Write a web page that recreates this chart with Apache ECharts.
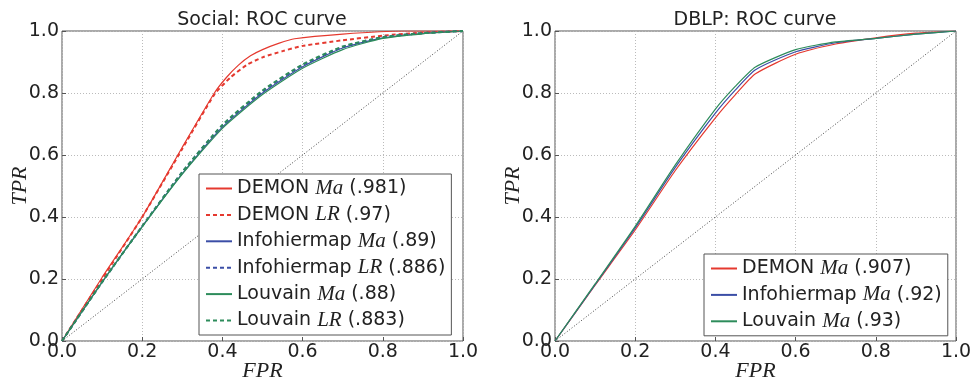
<!DOCTYPE html>
<html>
<head>
<meta charset="utf-8">
<script src="https://cdn.jsdelivr.net/npm/echarts@6/dist/echarts.min.js"></script>
<style>
  html, body { margin: 0; padding: 0; background: #fff; }
  #chart { width: 971px; height: 379px; }
</style>
</head>
<body>
<div id="chart"></div>
<script>
// Social panel: ROC points, [FPR, TPR]
const socialDemonMa = [[0, 0], [0.1, 0.205], [0.2, 0.4], [0.3, 0.625], [0.38, 0.8], [0.41, 0.85], [0.44, 0.89], [0.47, 0.92], [0.5, 0.94], [0.54, 0.96], [0.58, 0.975], [0.7, 0.99], [0.85, 1.0], [1, 1]];
const socialDemonLR = [[0, 0], [0.1, 0.2], [0.2, 0.4], [0.3, 0.62], [0.38, 0.795], [0.42, 0.85], [0.46, 0.89], [0.5, 0.915], [0.55, 0.935], [0.6, 0.952], [0.7, 0.97], [0.8, 0.985], [0.9, 0.995], [1, 1]];
const socialInfoMa = [[0, 0], [0.1, 0.19], [0.2, 0.37], [0.3, 0.54], [0.4, 0.69], [0.5, 0.8], [0.6, 0.885], [0.7, 0.945], [0.8, 0.978], [0.9, 0.992], [1, 1]];
const socialInfoLR = [[0, 0], [0.1, 0.19], [0.2, 0.37], [0.3, 0.545], [0.4, 0.695], [0.5, 0.805], [0.6, 0.89], [0.7, 0.948], [0.8, 0.98], [0.9, 0.993], [1, 1]];
const socialLouvMa = [[0, 0], [0.1, 0.19], [0.2, 0.368], [0.3, 0.538], [0.4, 0.686], [0.5, 0.795], [0.6, 0.88], [0.7, 0.94], [0.8, 0.976], [0.9, 0.991], [1, 1]];
const socialLouvLR = [[0, 0], [0.1, 0.19], [0.2, 0.37], [0.3, 0.545], [0.4, 0.697], [0.5, 0.808], [0.6, 0.892], [0.7, 0.95], [0.8, 0.98], [0.9, 0.993], [1, 1]];

// DBLP panel
const dblpDemonMa = [[0, 0], [0.1, 0.18], [0.2, 0.358], [0.3, 0.55], [0.4, 0.72], [0.45, 0.795], [0.5, 0.862], [0.6, 0.925], [0.7, 0.958], [0.8, 0.978], [0.9, 0.993], [1, 1]];
const dblpInfoMa = [[0, 0], [0.1, 0.182], [0.2, 0.365], [0.3, 0.56], [0.4, 0.735], [0.45, 0.81], [0.5, 0.875], [0.6, 0.933], [0.7, 0.962], [0.8, 0.976], [0.9, 0.99], [1, 1]];
const dblpLouvMa = [[0, 0], [0.1, 0.184], [0.2, 0.37], [0.3, 0.568], [0.4, 0.748], [0.45, 0.822], [0.5, 0.884], [0.6, 0.94], [0.7, 0.965], [0.8, 0.976], [0.9, 0.99], [1, 1]];

// chance line
const diagonal = [[0, 0], [1, 1]];

const socialNames = ["DEMON Ma (.981)", "DEMON LR (.97)", "Infohiermap Ma (.89)", "Infohiermap LR (.886)", "Louvain Ma (.88)", "Louvain LR (.883)"];
const dblpNames = ["DEMON Ma (.907)", "Infohiermap Ma (.92)", "Louvain Ma (.93)"];

const RED = "#e5392f";
const BLUE = "#3b4ea6";
const GREEN = "#2d8c5b";
const SANS = "DejaVu Sans";
const SERIF = "Liberation Serif";

// put the method tag (Ma / LR) in math italic like the original
const legendFmt = (name) => {
	const m = name.match(/^(\S+) (Ma|LR) (.*)$/);
	return m ? `{t|${m[1]} }{m|${m[2]}}{t| ${m[3]}}` : name;
};

const chart = echarts.init(document.getElementById("chart"), null, { renderer: "canvas" });

// v6 shrinks grids to keep names inside; we place everything ourselves
const grids = [
	{ left: 62, top: 31, width: 401, height: 310 },
	{ left: 555, top: 31, width: 401, height: 310 },
].map((g) => ({ ...g, show: true, borderColor: "#555", borderWidth: 1, backgroundColor: "#fff", outerBoundsMode: "none", containLabel: false }));

const nameStyle = { fontFamily: SERIF, fontStyle: "italic", fontSize: 22, color: "#222" };
const tickLabel = { fontFamily: SANS, fontSize: 19, color: "#222", formatter: (v) => v.toFixed(1) };
const gridLine = { show: true, lineStyle: { color: "#bbb", type: [1, 2] } };

const xAxis = (i) => ({
	type: "value",
	gridIndex: i,
	min: 0,
	max: 1,
	interval: 0.2,
	name: "FPR",
	nameLocation: "middle",
	nameGap: 19,
	nameMoveOverlap: false,
	nameTextStyle: nameStyle,
	axisLine: { show: false },
	axisTick: { inside: true, length: 4, lineStyle: { color: "#555" } },
	axisLabel: { ...tickLabel, margin: 2 },
	splitLine: gridLine,
});

const yAxis = (i) => ({
	type: "value",
	gridIndex: i,
	min: 0,
	max: 1,
	interval: 0.2,
	name: "TPR",
	nameLocation: "middle",
	nameGap: 31,
	nameRotate: 90,
	nameMoveOverlap: false,
	nameTextStyle: nameStyle,
	axisLine: { show: false },
	axisTick: { inside: true, length: 4, lineStyle: { color: "#555" } },
	axisLabel: { ...tickLabel, margin: 3 },
	splitLine: gridLine,
});

const line = (name, data, color, dashed, i) => ({
	name,
	type: "line",
	xAxisIndex: i,
	yAxisIndex: i,
	data,
	smooth: 0.2,
	symbol: "none",
	lineStyle: { color, width: dashed ? 2 : 1.2, type: dashed ? [4, 3] : "solid" },
	itemStyle: { color },
	z: 3,
});

const legendBase = {
	orient: "vertical",
	itemWidth: 26,
	itemHeight: 18,
	itemGap: 5.4,
	padding: [4, 6, 4, 6],
	borderColor: "#555",
	borderWidth: 1,
	borderRadius: 0,
	backgroundColor: "#fff",
	itemStyle: { opacity: 0 },
	formatter: legendFmt,
	selectedMode: false,
	textStyle: {
		fontFamily: SANS,
		fontSize: 19,
		color: "#222",
		rich: {
			t: { fontFamily: SANS, fontSize: 19, color: "#222" },
			m: { fontFamily: SERIF, fontStyle: "italic", fontSize: 21, color: "#222" },
		},
	},
};

const titleStyle = { fontFamily: SANS, fontSize: 19, fontWeight: "normal", color: "#222" };

chart.setOption({
	animation: false,
	title: [
		{ text: "Social: ROC curve", left: 262, top: 11, textAlign: "center", padding: 0, textStyle: titleStyle },
		{ text: "DBLP: ROC curve", left: 755, top: 11, textAlign: "center", padding: 0, textStyle: titleStyle },
	],
	grid: grids,
	xAxis: [xAxis(0), xAxis(1)],
	yAxis: [yAxis(0), yAxis(1)],
	legend: [
		{ ...legendBase, left: 199, top: 174, data: socialNames },
		{ ...legendBase, left: 704, top: 254, data: dblpNames },
	],
	series: [
		{ name: "chance-social", type: "line", xAxisIndex: 0, yAxisIndex: 0, data: diagonal, symbol: "none", lineStyle: { color: "#444", width: 1, type: [1, 2] }, z: 2 },
		{ name: "chance-dblp", type: "line", xAxisIndex: 1, yAxisIndex: 1, data: diagonal, symbol: "none", lineStyle: { color: "#444", width: 1, type: [1, 2] }, z: 2 },
		line(socialNames[0], socialDemonMa, RED, false, 0),
		line(socialNames[1], socialDemonLR, RED, true, 0),
		line(socialNames[2], socialInfoMa, BLUE, false, 0),
		line(socialNames[3], socialInfoLR, BLUE, true, 0),
		line(socialNames[4], socialLouvMa, GREEN, false, 0),
		line(socialNames[5], socialLouvLR, GREEN, true, 0),
		line(dblpNames[0], dblpDemonMa, RED, false, 1),
		line(dblpNames[1], dblpInfoMa, BLUE, false, 1),
		line(dblpNames[2], dblpLouvMa, GREEN, false, 1),
	],
});
</script>
</body>
</html>
